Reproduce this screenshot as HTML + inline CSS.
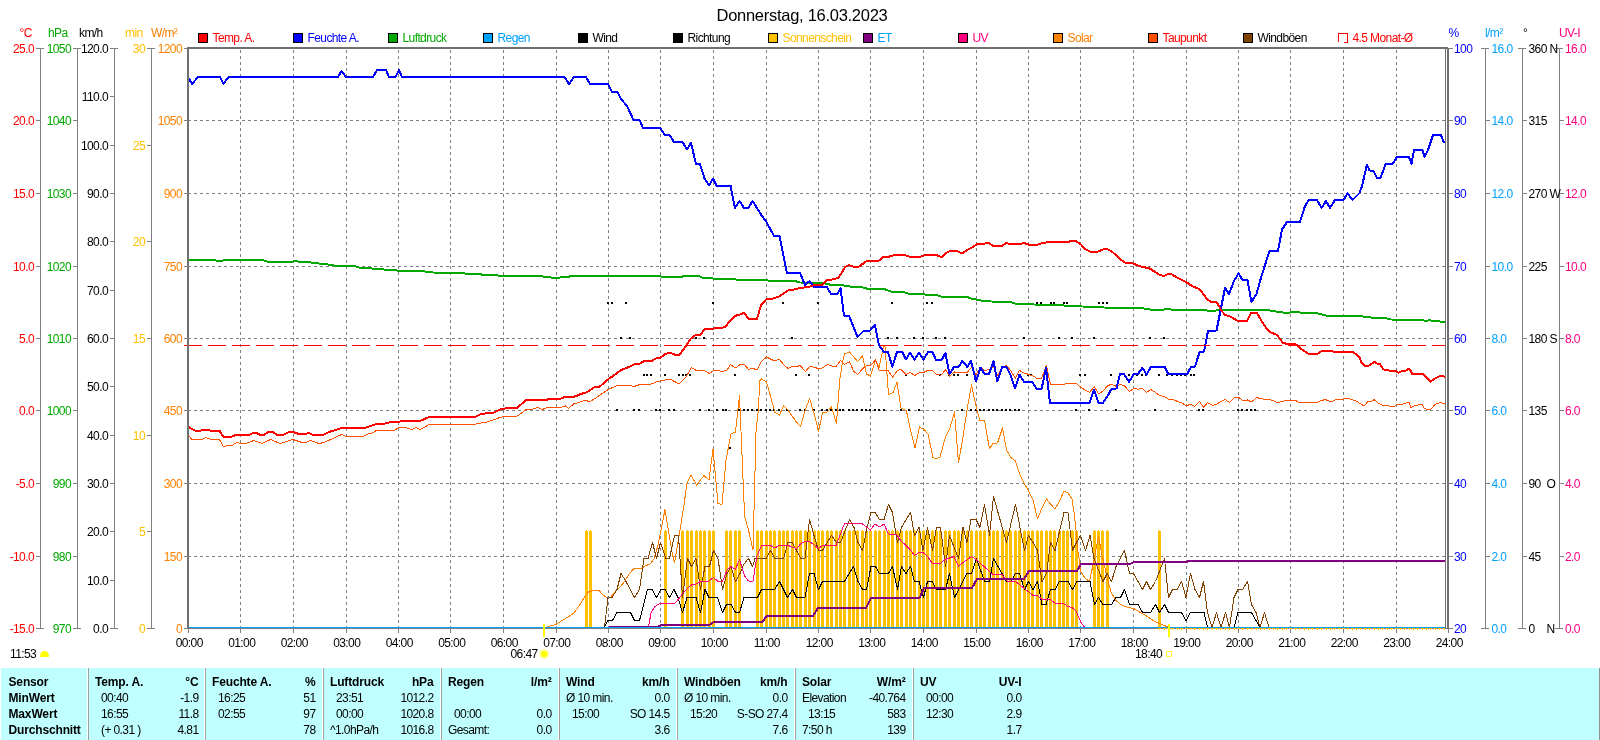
<!DOCTYPE html>
<html><head><meta charset="utf-8"><title>Wetter</title><style>html,body{margin:0;padding:0;background:#fff;overflow:hidden}svg{display:block;will-change:transform}text{white-space:pre}</style>
</head><body>
<svg width="1600" height="740" viewBox="0 0 1600 740" font-family="'Liberation Sans', sans-serif" font-size="12px" letter-spacing="-0.6px">
<rect x="0" y="0" width="1600" height="740" fill="#fff"/>
<text x="802" y="21" font-size="16.5px" letter-spacing="-0.28px" text-anchor="middle" fill="#000">Donnerstag, 16.03.2023</text>
<g stroke="#808080" stroke-width="1" stroke-dasharray="3,3" shape-rendering="crispEdges" fill="none"><line x1="188" y1="120.5" x2="1445" y2="120.5"/><line x1="188" y1="193.5" x2="1445" y2="193.5"/><line x1="188" y1="266.5" x2="1445" y2="266.5"/><line x1="188" y1="338.5" x2="1445" y2="338.5"/><line x1="188" y1="410.5" x2="1445" y2="410.5"/><line x1="188" y1="483.5" x2="1445" y2="483.5"/><line x1="188" y1="556.5" x2="1445" y2="556.5"/><line x1="240.5" y1="50" x2="240.5" y2="627"/><line x1="293.5" y1="50" x2="293.5" y2="627"/><line x1="346.5" y1="50" x2="346.5" y2="627"/><line x1="398.5" y1="50" x2="398.5" y2="627"/><line x1="450.5" y1="50" x2="450.5" y2="627"/><line x1="503.5" y1="50" x2="503.5" y2="627"/><line x1="556.5" y1="50" x2="556.5" y2="627"/><line x1="608.5" y1="50" x2="608.5" y2="627"/><line x1="660.5" y1="50" x2="660.5" y2="627"/><line x1="713.5" y1="50" x2="713.5" y2="627"/><line x1="766.5" y1="50" x2="766.5" y2="627"/><line x1="818.5" y1="50" x2="818.5" y2="627"/><line x1="870.5" y1="50" x2="870.5" y2="627"/><line x1="923.5" y1="50" x2="923.5" y2="627"/><line x1="976.5" y1="50" x2="976.5" y2="627"/><line x1="1028.5" y1="50" x2="1028.5" y2="627"/><line x1="1080.5" y1="50" x2="1080.5" y2="627"/><line x1="1133.5" y1="50" x2="1133.5" y2="627"/><line x1="1186.5" y1="50" x2="1186.5" y2="627"/><line x1="1238.5" y1="50" x2="1238.5" y2="627"/><line x1="1290.5" y1="50" x2="1290.5" y2="627"/><line x1="1343.5" y1="50" x2="1343.5" y2="627"/><line x1="1396.5" y1="50" x2="1396.5" y2="627"/></g>
<g shape-rendering="crispEdges"><rect x="585" y="531" width="3" height="97" fill="#FFC000"/><rect x="586" y="530" width="1" height="1" fill="#FFC000"/><rect x="589" y="531" width="3" height="97" fill="#FFC000"/><rect x="590" y="530" width="1" height="1" fill="#FFC000"/><rect x="664" y="531" width="3" height="97" fill="#FFC000"/><rect x="665" y="530" width="1" height="1" fill="#FFC000"/><rect x="681" y="531" width="3" height="97" fill="#FFC000"/><rect x="682" y="530" width="1" height="1" fill="#FFC000"/><rect x="686" y="531" width="3" height="97" fill="#FFC000"/><rect x="687" y="530" width="1" height="1" fill="#FFC000"/><rect x="690" y="531" width="3" height="97" fill="#FFC000"/><rect x="691" y="530" width="1" height="1" fill="#FFC000"/><rect x="695" y="531" width="3" height="97" fill="#FFC000"/><rect x="696" y="530" width="1" height="1" fill="#FFC000"/><rect x="699" y="531" width="3" height="97" fill="#FFC000"/><rect x="700" y="530" width="1" height="1" fill="#FFC000"/><rect x="703" y="531" width="3" height="97" fill="#FFC000"/><rect x="704" y="530" width="1" height="1" fill="#FFC000"/><rect x="708" y="531" width="3" height="97" fill="#FFC000"/><rect x="709" y="530" width="1" height="1" fill="#FFC000"/><rect x="712" y="531" width="3" height="97" fill="#FFC000"/><rect x="713" y="530" width="1" height="1" fill="#FFC000"/><rect x="725" y="531" width="3" height="97" fill="#FFC000"/><rect x="726" y="530" width="1" height="1" fill="#FFC000"/><rect x="729" y="531" width="3" height="97" fill="#FFC000"/><rect x="730" y="530" width="1" height="1" fill="#FFC000"/><rect x="734" y="531" width="3" height="97" fill="#FFC000"/><rect x="735" y="530" width="1" height="1" fill="#FFC000"/><rect x="738" y="531" width="3" height="97" fill="#FFC000"/><rect x="739" y="530" width="1" height="1" fill="#FFC000"/><rect x="756" y="531" width="3" height="97" fill="#FFC000"/><rect x="757" y="530" width="1" height="1" fill="#FFC000"/><rect x="760" y="531" width="3" height="97" fill="#FFC000"/><rect x="761" y="530" width="1" height="1" fill="#FFC000"/><rect x="765" y="531" width="3" height="97" fill="#FFC000"/><rect x="766" y="530" width="1" height="1" fill="#FFC000"/><rect x="769" y="531" width="3" height="97" fill="#FFC000"/><rect x="770" y="530" width="1" height="1" fill="#FFC000"/><rect x="773" y="531" width="3" height="97" fill="#FFC000"/><rect x="774" y="530" width="1" height="1" fill="#FFC000"/><rect x="778" y="531" width="3" height="97" fill="#FFC000"/><rect x="779" y="530" width="1" height="1" fill="#FFC000"/><rect x="782" y="531" width="3" height="97" fill="#FFC000"/><rect x="783" y="530" width="1" height="1" fill="#FFC000"/><rect x="786" y="531" width="3" height="97" fill="#FFC000"/><rect x="787" y="530" width="1" height="1" fill="#FFC000"/><rect x="791" y="531" width="3" height="97" fill="#FFC000"/><rect x="792" y="530" width="1" height="1" fill="#FFC000"/><rect x="795" y="531" width="3" height="97" fill="#FFC000"/><rect x="796" y="530" width="1" height="1" fill="#FFC000"/><rect x="799" y="531" width="3" height="97" fill="#FFC000"/><rect x="800" y="530" width="1" height="1" fill="#FFC000"/><rect x="804" y="531" width="3" height="97" fill="#FFC000"/><rect x="805" y="530" width="1" height="1" fill="#FFC000"/><rect x="808" y="531" width="3" height="97" fill="#FFC000"/><rect x="809" y="530" width="1" height="1" fill="#FFC000"/><rect x="813" y="531" width="3" height="97" fill="#FFC000"/><rect x="814" y="530" width="1" height="1" fill="#FFC000"/><rect x="817" y="531" width="3" height="97" fill="#FFC000"/><rect x="818" y="530" width="1" height="1" fill="#FFC000"/><rect x="821" y="531" width="3" height="97" fill="#FFC000"/><rect x="822" y="530" width="1" height="1" fill="#FFC000"/><rect x="826" y="531" width="3" height="97" fill="#FFC000"/><rect x="827" y="530" width="1" height="1" fill="#FFC000"/><rect x="830" y="531" width="3" height="97" fill="#FFC000"/><rect x="831" y="530" width="1" height="1" fill="#FFC000"/><rect x="835" y="531" width="3" height="97" fill="#FFC000"/><rect x="836" y="530" width="1" height="1" fill="#FFC000"/><rect x="839" y="531" width="3" height="97" fill="#FFC000"/><rect x="840" y="530" width="1" height="1" fill="#FFC000"/><rect x="843" y="531" width="3" height="97" fill="#FFC000"/><rect x="844" y="530" width="1" height="1" fill="#FFC000"/><rect x="848" y="531" width="3" height="97" fill="#FFC000"/><rect x="849" y="530" width="1" height="1" fill="#FFC000"/><rect x="852" y="531" width="3" height="97" fill="#FFC000"/><rect x="853" y="530" width="1" height="1" fill="#FFC000"/><rect x="856" y="531" width="3" height="97" fill="#FFC000"/><rect x="857" y="530" width="1" height="1" fill="#FFC000"/><rect x="861" y="531" width="3" height="97" fill="#FFC000"/><rect x="862" y="530" width="1" height="1" fill="#FFC000"/><rect x="865" y="531" width="3" height="97" fill="#FFC000"/><rect x="866" y="530" width="1" height="1" fill="#FFC000"/><rect x="869" y="531" width="3" height="97" fill="#FFC000"/><rect x="870" y="530" width="1" height="1" fill="#FFC000"/><rect x="874" y="531" width="3" height="97" fill="#FFC000"/><rect x="875" y="530" width="1" height="1" fill="#FFC000"/><rect x="878" y="531" width="3" height="97" fill="#FFC000"/><rect x="879" y="530" width="1" height="1" fill="#FFC000"/><rect x="883" y="531" width="3" height="97" fill="#FFC000"/><rect x="884" y="530" width="1" height="1" fill="#FFC000"/><rect x="887" y="531" width="3" height="97" fill="#FFC000"/><rect x="888" y="530" width="1" height="1" fill="#FFC000"/><rect x="891" y="531" width="3" height="97" fill="#FFC000"/><rect x="892" y="530" width="1" height="1" fill="#FFC000"/><rect x="896" y="531" width="3" height="97" fill="#FFC000"/><rect x="897" y="530" width="1" height="1" fill="#FFC000"/><rect x="900" y="531" width="3" height="97" fill="#FFC000"/><rect x="901" y="530" width="1" height="1" fill="#FFC000"/><rect x="905" y="531" width="3" height="97" fill="#FFC000"/><rect x="906" y="530" width="1" height="1" fill="#FFC000"/><rect x="909" y="531" width="3" height="97" fill="#FFC000"/><rect x="910" y="530" width="1" height="1" fill="#FFC000"/><rect x="913" y="531" width="3" height="97" fill="#FFC000"/><rect x="914" y="530" width="1" height="1" fill="#FFC000"/><rect x="918" y="531" width="3" height="97" fill="#FFC000"/><rect x="919" y="530" width="1" height="1" fill="#FFC000"/><rect x="922" y="531" width="3" height="97" fill="#FFC000"/><rect x="923" y="530" width="1" height="1" fill="#FFC000"/><rect x="926" y="531" width="3" height="97" fill="#FFC000"/><rect x="927" y="530" width="1" height="1" fill="#FFC000"/><rect x="931" y="531" width="3" height="97" fill="#FFC000"/><rect x="932" y="530" width="1" height="1" fill="#FFC000"/><rect x="935" y="531" width="3" height="97" fill="#FFC000"/><rect x="936" y="530" width="1" height="1" fill="#FFC000"/><rect x="939" y="531" width="3" height="97" fill="#FFC000"/><rect x="940" y="530" width="1" height="1" fill="#FFC000"/><rect x="944" y="531" width="3" height="97" fill="#FFC000"/><rect x="945" y="530" width="1" height="1" fill="#FFC000"/><rect x="948" y="531" width="3" height="97" fill="#FFC000"/><rect x="949" y="530" width="1" height="1" fill="#FFC000"/><rect x="953" y="531" width="3" height="97" fill="#FFC000"/><rect x="954" y="530" width="1" height="1" fill="#FFC000"/><rect x="957" y="531" width="3" height="97" fill="#FFC000"/><rect x="958" y="530" width="1" height="1" fill="#FFC000"/><rect x="961" y="531" width="3" height="97" fill="#FFC000"/><rect x="962" y="530" width="1" height="1" fill="#FFC000"/><rect x="966" y="531" width="3" height="97" fill="#FFC000"/><rect x="967" y="530" width="1" height="1" fill="#FFC000"/><rect x="970" y="531" width="3" height="97" fill="#FFC000"/><rect x="971" y="530" width="1" height="1" fill="#FFC000"/><rect x="975" y="531" width="3" height="97" fill="#FFC000"/><rect x="976" y="530" width="1" height="1" fill="#FFC000"/><rect x="979" y="531" width="3" height="97" fill="#FFC000"/><rect x="980" y="530" width="1" height="1" fill="#FFC000"/><rect x="983" y="531" width="3" height="97" fill="#FFC000"/><rect x="984" y="530" width="1" height="1" fill="#FFC000"/><rect x="988" y="531" width="3" height="97" fill="#FFC000"/><rect x="989" y="530" width="1" height="1" fill="#FFC000"/><rect x="992" y="531" width="3" height="97" fill="#FFC000"/><rect x="993" y="530" width="1" height="1" fill="#FFC000"/><rect x="996" y="531" width="3" height="97" fill="#FFC000"/><rect x="997" y="530" width="1" height="1" fill="#FFC000"/><rect x="1001" y="531" width="3" height="97" fill="#FFC000"/><rect x="1002" y="530" width="1" height="1" fill="#FFC000"/><rect x="1005" y="531" width="3" height="97" fill="#FFC000"/><rect x="1006" y="530" width="1" height="1" fill="#FFC000"/><rect x="1009" y="531" width="3" height="97" fill="#FFC000"/><rect x="1010" y="530" width="1" height="1" fill="#FFC000"/><rect x="1014" y="531" width="3" height="97" fill="#FFC000"/><rect x="1015" y="530" width="1" height="1" fill="#FFC000"/><rect x="1018" y="531" width="3" height="97" fill="#FFC000"/><rect x="1019" y="530" width="1" height="1" fill="#FFC000"/><rect x="1023" y="531" width="3" height="97" fill="#FFC000"/><rect x="1024" y="530" width="1" height="1" fill="#FFC000"/><rect x="1027" y="531" width="3" height="97" fill="#FFC000"/><rect x="1028" y="530" width="1" height="1" fill="#FFC000"/><rect x="1031" y="531" width="3" height="97" fill="#FFC000"/><rect x="1032" y="530" width="1" height="1" fill="#FFC000"/><rect x="1036" y="531" width="3" height="97" fill="#FFC000"/><rect x="1037" y="530" width="1" height="1" fill="#FFC000"/><rect x="1040" y="531" width="3" height="97" fill="#FFC000"/><rect x="1041" y="530" width="1" height="1" fill="#FFC000"/><rect x="1045" y="531" width="3" height="97" fill="#FFC000"/><rect x="1046" y="530" width="1" height="1" fill="#FFC000"/><rect x="1049" y="531" width="3" height="97" fill="#FFC000"/><rect x="1050" y="530" width="1" height="1" fill="#FFC000"/><rect x="1053" y="531" width="3" height="97" fill="#FFC000"/><rect x="1054" y="530" width="1" height="1" fill="#FFC000"/><rect x="1058" y="531" width="3" height="97" fill="#FFC000"/><rect x="1059" y="530" width="1" height="1" fill="#FFC000"/><rect x="1062" y="531" width="3" height="97" fill="#FFC000"/><rect x="1063" y="530" width="1" height="1" fill="#FFC000"/><rect x="1066" y="531" width="3" height="97" fill="#FFC000"/><rect x="1067" y="530" width="1" height="1" fill="#FFC000"/><rect x="1071" y="531" width="3" height="97" fill="#FFC000"/><rect x="1072" y="530" width="1" height="1" fill="#FFC000"/><rect x="1075" y="531" width="3" height="97" fill="#FFC000"/><rect x="1076" y="530" width="1" height="1" fill="#FFC000"/><rect x="1093" y="531" width="3" height="97" fill="#FFC000"/><rect x="1094" y="530" width="1" height="1" fill="#FFC000"/><rect x="1097" y="531" width="3" height="97" fill="#FFC000"/><rect x="1098" y="530" width="1" height="1" fill="#FFC000"/><rect x="1101" y="531" width="3" height="97" fill="#FFC000"/><rect x="1102" y="530" width="1" height="1" fill="#FFC000"/><rect x="1106" y="531" width="3" height="97" fill="#FFC000"/><rect x="1107" y="530" width="1" height="1" fill="#FFC000"/><rect x="1158" y="531" width="3" height="97" fill="#FFC000"/><rect x="1159" y="530" width="1" height="1" fill="#FFC000"/></g>
<g fill="#000" shape-rendering="crispEdges"><rect x="616" y="409" width="2" height="2"/><rect x="633" y="409" width="2" height="2"/><rect x="638" y="409" width="2" height="2"/><rect x="655" y="409" width="2" height="2"/><rect x="659" y="409" width="2" height="2"/><rect x="668" y="409" width="2" height="2"/><rect x="673" y="409" width="2" height="2"/><rect x="699" y="409" width="2" height="2"/><rect x="708" y="409" width="2" height="2"/><rect x="716" y="409" width="2" height="2"/><rect x="722" y="409" width="2" height="2"/><rect x="725" y="409" width="2" height="2"/><rect x="738" y="409" width="2" height="2"/><rect x="743" y="409" width="2" height="2"/><rect x="747" y="409" width="2" height="2"/><rect x="751" y="409" width="2" height="2"/><rect x="756" y="409" width="2" height="2"/><rect x="760" y="409" width="2" height="2"/><rect x="765" y="409" width="2" height="2"/><rect x="769" y="409" width="2" height="2"/><rect x="773" y="409" width="2" height="2"/><rect x="778" y="409" width="2" height="2"/><rect x="786" y="409" width="2" height="2"/><rect x="799" y="409" width="2" height="2"/><rect x="804" y="409" width="2" height="2"/><rect x="813" y="409" width="2" height="2"/><rect x="821" y="409" width="2" height="2"/><rect x="826" y="409" width="2" height="2"/><rect x="830" y="409" width="2" height="2"/><rect x="835" y="409" width="2" height="2"/><rect x="839" y="409" width="2" height="2"/><rect x="842" y="409" width="2" height="2"/><rect x="848" y="409" width="2" height="2"/><rect x="852" y="409" width="2" height="2"/><rect x="856" y="409" width="2" height="2"/><rect x="861" y="409" width="2" height="2"/><rect x="865" y="409" width="2" height="2"/><rect x="869" y="409" width="2" height="2"/><rect x="874" y="409" width="2" height="2"/><rect x="878" y="409" width="2" height="2"/><rect x="883" y="409" width="2" height="2"/><rect x="900" y="409" width="2" height="2"/><rect x="908" y="409" width="2" height="2"/><rect x="918" y="409" width="2" height="2"/><rect x="961" y="409" width="2" height="2"/><rect x="970" y="409" width="2" height="2"/><rect x="975" y="409" width="2" height="2"/><rect x="979" y="409" width="2" height="2"/><rect x="983" y="409" width="2" height="2"/><rect x="988" y="409" width="2" height="2"/><rect x="992" y="409" width="2" height="2"/><rect x="996" y="409" width="2" height="2"/><rect x="1001" y="409" width="2" height="2"/><rect x="1005" y="409" width="2" height="2"/><rect x="1009" y="409" width="2" height="2"/><rect x="1014" y="409" width="2" height="2"/><rect x="1018" y="409" width="2" height="2"/><rect x="1075" y="409" width="2" height="2"/><rect x="1088" y="409" width="2" height="2"/><rect x="1115" y="409" width="2" height="2"/><rect x="1154" y="409" width="2" height="2"/><rect x="1198" y="409" width="2" height="2"/><rect x="1202" y="409" width="2" height="2"/><rect x="1237" y="409" width="2" height="2"/><rect x="1241" y="409" width="2" height="2"/><rect x="1246" y="409" width="2" height="2"/><rect x="1250" y="409" width="2" height="2"/><rect x="1254" y="409" width="2" height="2"/><rect x="643" y="374" width="2" height="2"/><rect x="646" y="374" width="2" height="2"/><rect x="650" y="374" width="2" height="2"/><rect x="664" y="374" width="2" height="2"/><rect x="678" y="374" width="2" height="2"/><rect x="682" y="374" width="2" height="2"/><rect x="685" y="374" width="2" height="2"/><rect x="689" y="374" width="2" height="2"/><rect x="734" y="374" width="2" height="2"/><rect x="795" y="374" width="2" height="2"/><rect x="808" y="374" width="2" height="2"/><rect x="905" y="374" width="2" height="2"/><rect x="939" y="374" width="2" height="2"/><rect x="948" y="374" width="2" height="2"/><rect x="953" y="374" width="2" height="2"/><rect x="957" y="374" width="2" height="2"/><rect x="966" y="374" width="2" height="2"/><rect x="1027" y="374" width="2" height="2"/><rect x="1030" y="374" width="2" height="2"/><rect x="1079" y="374" width="2" height="2"/><rect x="1084" y="374" width="2" height="2"/><rect x="1110" y="374" width="2" height="2"/><rect x="1128" y="374" width="2" height="2"/><rect x="1136" y="374" width="2" height="2"/><rect x="1141" y="374" width="2" height="2"/><rect x="1145" y="374" width="2" height="2"/><rect x="1158" y="374" width="2" height="2"/><rect x="1166" y="374" width="2" height="2"/><rect x="1171" y="374" width="2" height="2"/><rect x="1176" y="374" width="2" height="2"/><rect x="1180" y="374" width="2" height="2"/><rect x="1184" y="374" width="2" height="2"/><rect x="1190" y="374" width="2" height="2"/><rect x="1193" y="374" width="2" height="2"/><rect x="620" y="337" width="2" height="2"/><rect x="629" y="337" width="2" height="2"/><rect x="695" y="337" width="2" height="2"/><rect x="703" y="337" width="2" height="2"/><rect x="791" y="337" width="2" height="2"/><rect x="887" y="337" width="2" height="2"/><rect x="896" y="337" width="2" height="2"/><rect x="913" y="337" width="2" height="2"/><rect x="922" y="337" width="2" height="2"/><rect x="935" y="337" width="2" height="2"/><rect x="944" y="337" width="2" height="2"/><rect x="1023" y="337" width="2" height="2"/><rect x="1058" y="337" width="2" height="2"/><rect x="1071" y="337" width="2" height="2"/><rect x="1093" y="337" width="2" height="2"/><rect x="1149" y="337" width="2" height="2"/><rect x="1163" y="337" width="2" height="2"/><rect x="607" y="302" width="2" height="2"/><rect x="611" y="302" width="2" height="2"/><rect x="625" y="302" width="2" height="2"/><rect x="712" y="302" width="2" height="2"/><rect x="782" y="302" width="2" height="2"/><rect x="817" y="302" width="2" height="2"/><rect x="891" y="302" width="2" height="2"/><rect x="926" y="302" width="2" height="2"/><rect x="931" y="302" width="2" height="2"/><rect x="1036" y="302" width="2" height="2"/><rect x="1040" y="302" width="2" height="2"/><rect x="1050" y="302" width="2" height="2"/><rect x="1053" y="302" width="2" height="2"/><rect x="1063" y="302" width="2" height="2"/><rect x="1066" y="302" width="2" height="2"/><rect x="1098" y="302" width="2" height="2"/><rect x="1102" y="302" width="2" height="2"/><rect x="1106" y="302" width="2" height="2"/><rect x="729" y="447" width="2" height="2"/></g>
<polyline points="547.0,627.5 548.0,626.5 552.0,625.5 556.0,624.3 563.0,620.0 568.0,617.0 574.0,613.0 581.0,603.0 585.0,596.0 589.0,591.5 594.0,590.5 599.0,590.5 603.0,595.0 607.0,597.5 611.0,597.0 616.0,590.5 620.0,587.0 625.0,581.0 629.0,574.0 634.0,568.5 641.0,568.5 645.0,566.0 650.0,564.0 654.0,559.0 658.0,545.0 661.0,530.0 665.0,509.5 668.0,528.0 672.0,552.0 674.5,563.0 680.0,530.0 684.0,505.0 687.0,483.0 691.0,475.0 696.5,485.0 704.0,475.5 709.0,480.0 713.0,449.0 718.0,503.5 722.0,504.5 726.0,460.0 731.0,434.0 735.5,432.0 739.5,396.0 744.0,502.0 745.0,518.0 748.0,528.0 753.0,550.0 756.0,432.0 758.0,413.0 760.0,380.5 761.5,379.0 766.5,382.0 771.0,398.0 775.0,412.5 779.5,415.0 783.5,405.5 788.0,410.0 792.0,416.0 796.5,422.0 800.5,426.5 805.0,411.0 809.5,398.5 814.0,413.0 818.5,431.5 822.5,413.0 827.0,412.0 831.5,407.0 836.5,423.5 838.5,396.0 840.0,378.0 842.5,362.0 844.5,354.0 849.5,352.0 853.5,356.5 857.5,361.5 862.5,356.0 866.5,374.0 870.5,376.0 875.5,360.0 879.0,367.5 883.5,347.0 885.0,346.5 888.5,395.0 893.0,392.5 897.0,382.0 901.0,408.0 906.5,411.0 910.0,428.0 915.0,448.0 919.5,427.0 924.0,429.5 928.0,434.0 933.0,457.5 936.5,459.0 940.0,457.0 945.5,437.0 950.0,428.0 954.5,412.0 958.5,463.0 963.0,437.0 967.0,410.0 971.5,385.0 976.0,406.0 980.0,421.0 984.5,420.5 989.5,449.0 993.0,443.5 997.5,443.0 1002.5,428.0 1006.5,450.0 1011.0,457.5 1015.5,461.0 1019.5,474.0 1024.0,483.0 1028.5,491.0 1033.0,500.0 1037.5,519.0 1042.0,508.0 1046.5,499.0 1050.5,504.0 1055.0,509.0 1059.5,501.0 1064.0,491.0 1068.0,493.0 1072.0,499.0 1074.0,512.0 1076.0,530.0 1077.5,548.0 1078.5,555.0 1081.0,572.0 1085.0,578.0 1089.5,581.5 1094.0,560.0 1098.5,536.5 1102.0,555.0 1107.0,577.0 1111.0,592.0 1115.5,600.0 1120.0,604.0 1125.0,606.5 1129.0,607.5 1133.5,608.5 1138.0,611.0 1142.0,613.5 1146.5,616.0 1151.0,619.0 1155.0,621.5 1159.5,623.5 1164.0,625.5 1168.5,627.0" fill="none" stroke="#FF8000" stroke-width="1.0" stroke-linejoin="round" shape-rendering="crispEdges"/>
<polyline points="604.5,627.5 608.0,597.5 612.0,597.5 617.0,589.5 621.0,573.5 626.0,581.5 634.5,597.5 639.5,589.5 644.0,558.5 648.0,558.5 652.5,542.5 656.5,558.5 660.5,542.5 666.0,558.5 669.5,558.5 674.5,535.5 678.5,535.5 682.5,597.5 687.5,558.5 691.5,566.5 696.0,558.5 700.5,589.5 705.0,566.5 709.5,566.5 713.5,550.5 718.0,558.5 722.5,589.5 727.0,573.5 731.0,566.5 735.5,581.5 740.0,573.5 744.0,564.0 748.5,558.5 752.5,566.5 755.0,558.5 757.0,558.5 766.0,558.5 770.5,550.5 775.0,558.5 783.5,558.5 788.0,542.5 792.0,542.5 796.5,550.5 801.0,558.5 805.0,558.5 809.5,519.5 814.0,535.5 818.5,550.5 822.5,550.5 831.5,535.5 836.5,542.5 840.5,542.5 849.5,519.5 854.0,527.5 858.0,542.5 862.5,550.5 867.0,527.5 871.0,512.5 875.0,512.5 879.5,519.5 884.0,519.5 888.5,504.5 892.5,512.5 897.5,542.5 901.5,527.5 910.5,512.5 914.5,535.5 919.0,527.5 923.0,550.5 927.5,527.5 932.5,550.5 936.5,527.5 940.5,527.5 945.5,566.5 949.5,535.5 958.5,558.5 963.0,527.5 967.0,542.5 971.0,519.5 976.0,519.5 980.0,527.5 984.5,504.5 989.5,535.5 993.5,496.5 1006.5,542.5 1015.5,504.5 1024.5,550.5 1028.5,535.5 1033.0,542.5 1037.5,550.5 1042.0,581.5 1046.5,573.5 1050.5,542.5 1055.0,550.5 1064.0,512.5 1068.0,512.5 1072.5,550.5 1076.5,542.5 1080.5,535.5 1085.5,550.5 1090.0,535.5 1094.0,558.5 1103.0,581.5 1107.0,573.5 1111.5,581.5 1116.0,566.5 1124.5,550.5 1129.5,573.5 1133.5,573.5 1142.5,589.5 1146.5,581.5 1150.5,589.5 1155.5,581.5 1164.5,558.5 1168.5,597.5 1172.5,589.5 1177.0,589.5 1181.5,581.5 1186.0,597.5 1190.5,573.5 1195.0,589.5 1199.5,597.5 1203.5,581.5 1207.5,612.5 1212.0,627.5 1216.5,612.5 1221.0,627.5 1225.5,612.5 1229.5,627.5 1234.0,597.5 1238.0,589.5 1242.5,589.5 1247.5,581.5 1251.5,604.5 1256.0,612.5 1260.0,627.5 1264.5,612.5 1269.0,627.5" fill="none" stroke="#804000" stroke-width="1.0" stroke-linejoin="round" shape-rendering="crispEdges"/>
<polyline points="604.5,627.5 607.5,620.5 612.5,620.5 617.0,612.5 630.5,612.5 634.5,620.5 639.5,620.5 647.5,589.5 652.0,589.5 656.5,597.5 661.0,589.5 665.0,589.5 669.5,597.5 674.0,589.5 678.0,597.5 682.5,612.5 687.0,597.5 696.0,597.5 700.5,612.5 705.0,589.5 709.0,597.5 717.5,597.5 722.5,612.5 726.5,604.5 731.0,604.5 735.5,612.5 739.5,612.5 744.0,597.5 757.5,597.5 761.5,589.5 774.5,589.5 779.5,581.5 787.5,597.5 792.5,589.5 796.5,597.5 805.0,597.5 809.5,573.5 814.0,573.5 818.5,589.5 822.5,581.5 844.5,581.5 853.5,566.5 858.0,581.5 862.5,589.5 866.5,589.5 871.0,566.5 875.5,566.5 879.5,573.5 888.5,573.5 892.5,566.5 897.5,589.5 901.5,566.5 906.0,573.5 910.5,566.5 914.5,581.5 919.0,581.5 923.5,597.5 927.5,581.5 932.0,581.5 936.5,589.5 945.5,589.5 949.5,573.5 954.5,597.5 967.0,573.5 971.5,573.5 976.5,558.5 984.5,581.5 989.5,581.5 993.5,558.5 1006.5,581.5 1011.0,581.5 1015.5,573.5 1019.5,573.5 1024.5,589.5 1028.5,581.5 1033.0,589.5 1037.5,581.5 1042.0,604.5 1046.0,604.5 1050.5,589.5 1055.0,589.5 1059.5,581.5 1068.0,581.5 1072.5,589.5 1077.0,581.5 1090.0,581.5 1094.5,604.5 1098.5,597.5 1103.0,604.5 1111.5,604.5 1116.0,597.5 1120.5,597.5 1124.5,589.5 1129.5,604.5 1138.0,604.5 1142.5,612.5 1150.5,612.5 1155.5,604.5 1159.5,612.5 1164.5,604.5 1168.5,612.5 1181.5,612.5 1186.0,620.5 1190.5,612.5 1204.0,612.5 1207.5,627.5 1234.0,627.5 1238.0,612.5 1251.5,612.5 1256.0,620.5 1260.0,627.5" fill="none" stroke="#000" stroke-width="1.0" stroke-linejoin="round" shape-rendering="crispEdges"/>
<polyline points="648.5,627.0 651.0,613.0 654.5,607.0 659.5,603.5 674.5,603.5 679.0,598.5 683.0,593.0 687.5,588.5 692.0,584.5 696.0,584.0 700.5,581.5 709.0,581.0 713.5,577.5 718.0,581.5 722.5,581.5 727.0,570.0 730.5,567.0 735.5,569.0 739.5,559.5 744.5,576.0 748.5,581.0 753.0,581.0 757.0,556.0 761.5,545.5 770.5,545.5 775.0,548.0 779.0,545.5 788.0,545.5 796.5,548.5 801.0,543.5 805.0,541.5 809.5,541.5 818.5,548.5 822.5,545.5 836.0,545.5 840.5,534.0 844.5,523.5 862.0,523.5 866.5,527.0 870.5,530.0 875.0,524.0 879.5,527.0 884.0,524.0 888.5,534.0 896.5,534.5 901.5,541.5 906.0,545.5 910.0,549.5 914.5,555.5 919.0,552.5 923.0,552.5 927.5,556.5 932.5,563.5 940.5,563.5 945.0,559.5 954.0,556.5 958.5,566.0 971.5,556.5 976.0,559.5 984.5,567.0 993.0,574.5 1002.0,574.5 1006.5,581.0 1015.5,581.5 1024.5,588.5 1033.0,595.5 1037.5,595.5 1042.0,599.5 1050.0,599.5 1055.0,603.0 1063.5,603.5 1068.0,606.5 1072.0,607.5 1076.0,611.0 1079.0,618.0 1082.0,624.0 1085.0,627.5" fill="none" stroke="#FF0080" stroke-width="1.0" stroke-linejoin="round" shape-rendering="crispEdges"/>
<polyline points="188.0,435.0 192.0,439.5 202.0,439.5 206.0,437.5 210.0,439.0 219.5,439.5 223.5,447.0 227.0,445.5 232.0,445.5 236.5,442.5 241.0,443.5 247.0,443.0 254.0,440.5 262.0,443.5 270.5,439.5 280.0,443.5 285.0,442.0 293.0,439.5 302.0,442.5 306.0,442.5 310.5,440.5 319.0,443.5 324.0,442.5 333.0,438.5 341.5,434.5 346.5,436.5 363.0,436.5 368.0,434.0 372.0,433.0 376.5,430.5 394.0,430.5 398.0,428.0 400.0,427.5 407.0,428.0 412.0,429.5 416.0,427.5 420.5,429.5 429.0,424.5 474.0,424.5 478.5,423.5 487.0,422.0 491.5,420.5 500.0,417.5 504.5,416.5 516.5,416.5 521.0,413.5 526.0,409.5 531.5,409.5 538.0,407.5 542.5,409.5 547.0,407.5 562.5,407.0 565.5,406.0 568.5,408.5 573.5,404.0 577.0,403.0 585.0,400.5 590.0,401.5 596.5,397.5 603.0,393.0 609.0,389.0 617.5,385.5 630.0,385.5 634.0,386.5 640.0,384.5 649.0,385.0 656.0,382.0 662.0,380.5 670.0,379.0 674.5,381.5 679.0,384.0 686.0,377.0 691.5,367.5 697.0,371.0 704.0,370.5 709.5,373.5 713.5,370.5 718.0,370.5 722.0,371.5 727.0,370.0 730.5,364.5 735.5,368.0 740.0,364.5 744.5,364.5 748.5,369.5 752.0,368.5 757.0,369.5 761.5,361.5 766.5,357.0 772.5,360.0 775.0,360.5 779.5,359.5 784.0,365.0 788.0,368.5 792.5,366.5 797.0,366.5 800.0,365.5 805.5,371.5 810.0,366.0 814.5,367.5 818.5,368.5 822.5,368.0 827.5,364.5 831.5,366.0 836.0,366.5 840.5,360.5 844.5,364.5 849.5,361.5 853.5,371.0 857.5,374.5 862.5,369.0 866.5,365.5 871.0,365.0 875.5,360.0 879.5,371.0 884.0,370.5 888.0,370.5 892.5,377.0 897.5,370.6 901.0,369.5 906.0,374.6 910.0,372.3 914.6,375.5 919.0,373.0 923.5,372.5 927.5,370.5 932.5,370.5 936.6,374.6 941.0,375.2 945.7,369.6 949.5,376.0 954.5,372.0 958.4,373.0 962.7,372.2 967.3,372.3 971.6,367.3 976.0,375.0 980.5,367.5 985.0,370.7 989.0,369.5 993.5,366.5 997.5,375.5 1002.0,368.0 1006.5,365.5 1011.0,371.0 1015.4,378.5 1019.5,370.4 1024.0,373.0 1028.5,374.3 1033.0,376.0 1037.0,378.4 1041.6,378.4 1046.4,365.4 1050.5,384.6 1064.5,384.3 1066.0,383.4 1076.5,383.4 1081.0,387.6 1089.6,392.4 1094.3,386.5 1098.6,394.0 1103.0,391.0 1107.4,386.0 1111.0,384.3 1116.0,386.2 1120.5,384.3 1124.5,386.0 1129.5,391.5 1133.5,388.4 1138.0,389.2 1142.0,388.4 1146.6,392.3 1150.5,389.5 1155.0,392.0 1159.5,395.4 1164.5,396.5 1168.6,399.3 1173.0,399.6 1177.5,401.4 1181.8,403.0 1186.5,405.7 1190.5,404.3 1194.6,406.2 1199.5,401.5 1203.4,407.3 1207.6,402.6 1212.5,405.4 1217.0,404.0 1221.0,401.5 1225.0,399.6 1229.5,402.4 1235.0,397.3 1239.0,397.6 1242.6,400.3 1247.5,400.0 1251.5,402.0 1256.5,397.5 1260.5,398.5 1265.0,399.5 1270.0,399.5 1277.5,402.5 1282.5,401.5 1286.0,400.5 1295.5,400.5 1300.0,403.0 1304.0,402.5 1317.0,402.5 1321.5,400.5 1325.5,399.5 1331.0,402.0 1335.0,400.0 1343.5,399.0 1347.5,398.5 1352.0,399.5 1357.0,401.5 1364.0,406.0 1368.0,401.5 1371.0,402.0 1374.0,399.5 1378.0,403.0 1383.0,405.5 1387.0,405.0 1391.0,407.0 1395.0,406.0 1397.0,404.5 1400.0,405.0 1409.0,402.0 1411.0,407.5 1415.0,405.5 1422.0,404.5 1424.5,408.5 1428.0,409.5 1431.0,409.0 1435.0,404.5 1440.0,402.5 1445.0,404.0" fill="none" stroke="#FF5000" stroke-width="1.0" stroke-linejoin="round" shape-rendering="crispEdges"/>
<polyline points="609.0,627.0 658.0,626.5 661.5,625.0 709.0,625.0 714.0,622.0 762.0,622.0 767.0,616.0 813.0,616.0 818.0,608.0 866.0,608.0 871.0,598.0 919.5,598.0 924.0,588.0 972.0,588.0 977.0,579.0 1024.0,579.0 1029.0,571.0 1077.0,571.0 1081.0,564.0 1130.0,564.0 1134.0,562.0 1186.0,562.0 1189.0,561.0 1445.0,561.0" fill="none" stroke="#800080" stroke-width="2" stroke-linejoin="round" shape-rendering="crispEdges"/>
<polyline points="188.0,260.0 214.0,260.0 216.0,260.5 223.0,260.5 225.0,260.0 262.0,260.0 267.0,261.5 293.0,261.5 295.0,261.0 298.0,261.5 310.0,262.0 312.0,263.0 319.0,263.5 321.0,264.0 328.0,264.5 331.0,265.0 337.0,266.0 354.0,266.0 359.0,267.5 371.0,268.0 373.0,269.0 384.0,269.5 386.0,270.0 397.0,270.5 400.0,271.0 424.0,271.0 426.0,272.0 433.0,272.5 463.0,273.0 465.0,273.5 480.0,274.0 483.0,275.0 498.0,275.5 500.0,276.0 542.0,276.0 544.0,277.0 551.0,277.5 554.0,278.0 558.0,278.0 562.0,277.0 568.0,277.0 571.0,276.0 660.0,276.0 662.0,277.0 681.0,277.0 684.0,276.0 699.0,276.0 703.0,278.0 712.0,278.0 714.0,279.0 730.0,279.0 732.0,278.5 734.0,279.0 736.0,279.5 765.0,279.5 769.0,281.0 795.0,281.0 798.0,282.0 800.0,282.5 824.0,283.0 827.0,284.0 832.0,285.0 844.0,285.5 850.0,286.5 863.0,287.5 868.0,289.0 884.0,289.0 892.0,292.0 905.0,292.5 908.0,293.5 922.0,294.0 925.0,294.5 936.0,295.0 941.0,296.5 966.0,296.5 971.0,298.5 976.0,299.5 981.0,300.5 988.0,301.0 991.0,301.5 1010.0,302.0 1015.0,303.5 1031.0,304.0 1034.0,304.5 1062.0,305.0 1064.0,305.5 1080.0,306.0 1082.0,306.5 1101.0,307.0 1104.0,307.5 1142.0,308.0 1146.0,309.0 1150.0,309.5 1164.0,309.5 1167.0,309.0 1171.0,309.5 1174.0,310.0 1200.0,310.0 1207.0,310.5 1216.0,310.5 1219.0,310.0 1268.0,310.0 1272.0,311.0 1276.0,311.5 1280.0,312.0 1283.0,312.5 1290.0,312.5 1292.0,312.0 1298.0,312.0 1300.0,312.5 1316.0,313.0 1320.0,314.0 1326.0,315.5 1360.0,315.5 1363.0,316.5 1368.0,317.0 1371.0,317.5 1385.0,318.0 1391.0,319.5 1422.0,320.0 1424.0,320.5 1428.0,320.5 1430.0,320.0 1432.0,321.0 1440.0,321.5 1445.0,322.0" fill="none" stroke="#00A800" stroke-width="2" stroke-linejoin="round" shape-rendering="crispEdges"/>
<polyline points="188.0,77.0 192.0,84.0 198.0,77.0 220.0,77.0 223.5,84.0 228.5,77.0 338.0,77.0 341.5,71.0 346.0,77.0 373.0,77.0 377.0,70.0 386.0,70.0 389.0,77.0 395.5,77.0 399.0,70.0 402.0,77.0 564.5,77.0 569.0,84.0 574.0,77.0 586.0,77.0 590.0,84.0 608.0,84.0 612.0,92.0 617.5,92.0 621.0,99.0 627.0,106.0 633.5,120.0 639.5,120.0 643.0,128.0 660.0,128.0 665.0,135.0 669.5,135.0 674.0,142.0 682.5,142.0 687.0,149.5 691.0,143.0 696.0,164.0 700.0,164.0 704.5,178.5 709.0,185.5 713.0,178.5 716.5,185.5 730.5,185.5 735.0,208.0 739.5,201.0 744.0,208.0 748.5,208.0 752.5,201.0 761.0,214.5 766.5,222.0 774.0,236.0 779.5,236.0 787.0,273.0 800.0,273.0 805.0,285.0 809.5,281.0 813.5,286.5 826.5,286.5 831.0,294.0 837.5,294.0 840.5,288.0 844.0,315.5 849.0,315.5 857.5,337.0 864.0,330.5 870.0,330.5 875.0,325.0 879.0,345.4 884.0,352.0 888.0,352.0 892.3,366.6 897.0,352.0 902.4,352.0 906.0,359.5 910.0,352.7 914.6,359.5 919.0,352.7 923.5,359.5 928.0,352.0 932.4,352.0 936.0,360.0 941.6,360.0 945.4,353.0 949.5,374.0 954.0,367.0 958.6,367.0 962.4,360.8 967.3,367.0 971.0,360.8 976.0,381.5 980.5,367.6 984.6,374.0 989.0,374.0 993.5,361.0 997.3,381.5 1002.0,367.3 1006.5,367.3 1010.5,374.7 1015.0,388.6 1019.5,374.6 1024.0,381.9 1032.0,381.9 1037.0,389.0 1041.6,389.0 1046.0,367.6 1050.0,403.0 1089.5,403.0 1094.0,389.5 1098.6,403.0 1103.0,403.0 1107.4,396.2 1111.5,389.0 1116.5,388.5 1120.0,374.0 1124.0,374.0 1129.0,382.0 1133.5,374.5 1138.0,374.0 1142.4,367.6 1146.5,374.6 1151.0,366.8 1164.6,366.8 1168.4,374.3 1187.0,374.3 1191.0,367.0 1195.0,366.5 1199.5,352.3 1204.0,351.6 1208.0,331.0 1216.5,330.5 1225.0,288.0 1229.0,294.0 1234.0,281.0 1238.5,273.5 1242.5,280.0 1247.5,280.0 1251.5,302.0 1256.5,294.0 1260.5,279.5 1265.0,265.0 1269.5,251.0 1278.0,251.0 1282.0,229.5 1287.0,222.0 1300.0,222.0 1304.5,207.5 1308.5,200.0 1317.0,200.0 1321.5,208.0 1326.0,201.0 1330.0,208.0 1335.0,200.0 1343.5,200.0 1347.5,193.5 1352.5,200.0 1359.5,193.0 1362.0,186.0 1367.0,164.5 1369.5,170.5 1373.5,171.0 1377.0,178.0 1380.5,178.0 1385.5,164.5 1392.5,164.0 1397.0,157.0 1409.0,157.0 1411.5,164.0 1414.0,150.0 1422.5,150.0 1424.5,157.0 1428.0,150.0 1433.0,135.0 1441.0,135.0 1443.5,142.0 1445.5,142.0" fill="none" stroke="#0000FF" stroke-width="2" stroke-linejoin="round" shape-rendering="crispEdges"/>
<polyline points="188.0,426.5 191.0,428.5 195.0,430.5 201.0,430.5 205.0,429.5 209.5,430.5 219.5,430.5 223.0,436.5 232.0,436.5 236.0,435.0 249.0,435.0 253.0,433.0 257.0,433.0 260.0,435.0 264.0,435.0 268.0,432.0 273.0,432.0 277.0,435.0 283.0,435.0 288.0,432.5 293.0,432.0 299.0,434.0 305.0,434.0 309.0,433.0 313.0,435.0 323.0,435.0 329.0,432.0 337.0,429.5 342.0,428.0 365.0,428.0 370.0,426.0 377.0,424.0 385.0,423.5 391.0,422.0 400.0,421.5 403.0,420.5 410.0,421.0 413.0,420.5 420.0,421.0 430.0,416.5 476.0,416.5 481.0,414.0 494.0,412.5 500.0,409.5 505.0,408.5 517.0,408.0 526.0,400.0 545.0,400.0 550.0,399.0 560.0,398.9 565.3,396.9 573.0,396.9 577.0,395.8 580.7,394.0 586.8,392.2 590.8,389.7 594.5,387.3 599.0,387.3 603.0,383.7 608.7,378.8 613.1,376.0 618.4,371.9 622.9,369.2 629.0,367.0 634.6,364.2 639.1,364.2 644.3,360.9 651.6,360.9 656.5,358.1 660.6,357.7 664.6,354.5 667.9,353.1 671.1,353.1 675.2,354.9 679.5,355.0 682.7,350.5 687.0,344.6 690.8,338.6 695.7,335.1 700.5,335.1 704.0,329.5 708.0,329.0 713.0,329.0 717.0,327.5 721.0,328.0 725.0,327.0 730.0,321.0 735.0,316.0 740.0,314.5 744.0,313.0 749.0,319.0 757.0,319.0 761.0,305.0 766.0,299.5 771.0,299.0 778.0,297.0 783.0,294.0 788.0,290.5 794.0,289.5 800.0,288.0 809.0,287.0 814.0,285.0 822.0,285.0 827.0,280.0 832.0,279.5 838.0,278.0 841.0,274.0 845.0,267.0 849.0,265.0 854.0,267.0 859.0,266.5 866.0,261.5 871.0,260.5 879.0,260.5 884.0,256.5 888.0,257.0 893.0,255.5 897.0,255.0 905.0,255.0 910.0,257.0 920.0,257.0 925.0,255.0 936.0,255.0 940.0,256.5 942.0,257.0 946.0,253.0 951.0,250.5 955.0,250.5 958.0,251.5 962.0,253.5 967.0,250.0 972.0,247.5 977.0,244.0 985.0,243.5 989.0,243.0 993.0,246.0 997.0,245.5 1002.0,246.0 1006.0,243.0 1010.0,244.0 1020.0,244.0 1024.0,243.0 1030.0,245.0 1037.0,245.0 1041.0,243.5 1048.0,242.0 1067.0,242.0 1072.0,241.0 1076.0,241.0 1081.0,244.5 1085.0,249.0 1090.0,251.5 1098.0,251.5 1103.0,249.5 1107.0,249.0 1111.0,251.0 1116.0,255.0 1120.0,259.0 1125.0,262.5 1133.0,263.5 1138.0,265.5 1142.0,267.0 1149.0,268.0 1155.0,272.0 1160.0,275.0 1164.0,276.0 1168.0,274.0 1172.0,274.5 1177.0,277.5 1186.0,282.0 1192.0,286.0 1200.0,289.5 1207.0,299.0 1211.0,302.0 1217.0,302.5 1221.0,310.0 1225.0,315.0 1230.0,316.5 1238.0,321.0 1247.0,321.0 1251.0,313.0 1257.0,313.0 1261.0,320.0 1265.0,326.5 1270.0,332.0 1277.0,335.0 1283.0,343.0 1288.0,344.0 1296.0,344.5 1300.0,348.0 1308.0,353.5 1318.0,353.5 1322.0,351.0 1330.0,351.0 1333.0,351.5 1352.0,351.5 1357.0,355.0 1359.5,357.5 1362.0,363.5 1365.0,366.0 1368.5,366.0 1371.0,364.0 1374.5,362.0 1377.0,363.5 1380.0,364.0 1383.5,369.5 1388.0,370.0 1390.0,370.8 1396.0,371.0 1398.5,372.8 1402.0,371.0 1406.0,370.5 1408.5,368.8 1410.5,370.5 1412.0,373.8 1423.0,373.8 1427.0,378.0 1430.5,381.5 1435.0,378.5 1439.0,376.5 1442.5,375.8 1445.5,377.0" fill="none" stroke="#FF0000" stroke-width="2" stroke-linejoin="round" shape-rendering="crispEdges"/>
<line x1="184" y1="345.5" x2="1445" y2="345.5" stroke="#FF0000" stroke-width="1" stroke-dasharray="18,6" shape-rendering="crispEdges"/>
<rect x="184" y="628" width="1265" height="1" fill="#808080" shape-rendering="crispEdges"/>
<rect x="189" y="627" width="1257" height="1" fill="#00A0FF" shape-rendering="crispEdges"/>
<g fill="#FFC000" shape-rendering="crispEdges"><rect x="1158" y="628" width="3" height="1"/><rect x="1159" y="629" width="1" height="1"/><rect x="1163" y="628" width="3" height="1"/><rect x="1164" y="629" width="1" height="1"/><rect x="1167" y="628" width="3" height="1"/><rect x="1168" y="629" width="1" height="1"/><rect x="1171" y="628" width="3" height="1"/><rect x="1172" y="629" width="1" height="1"/><rect x="1176" y="628" width="3" height="1"/><rect x="1177" y="629" width="1" height="1"/><rect x="1180" y="628" width="3" height="1"/><rect x="1181" y="629" width="1" height="1"/><rect x="1185" y="628" width="3" height="1"/><rect x="1186" y="629" width="1" height="1"/><rect x="1189" y="628" width="3" height="1"/><rect x="1190" y="629" width="1" height="1"/><rect x="1193" y="628" width="3" height="1"/><rect x="1194" y="629" width="1" height="1"/><rect x="1198" y="628" width="3" height="1"/><rect x="1199" y="629" width="1" height="1"/><rect x="1202" y="628" width="3" height="1"/><rect x="1203" y="629" width="1" height="1"/><rect x="1206" y="628" width="3" height="1"/><rect x="1207" y="629" width="1" height="1"/><rect x="1211" y="628" width="3" height="1"/><rect x="1212" y="629" width="1" height="1"/><rect x="1215" y="628" width="3" height="1"/><rect x="1216" y="629" width="1" height="1"/><rect x="1219" y="628" width="3" height="1"/><rect x="1220" y="629" width="1" height="1"/><rect x="1224" y="628" width="3" height="1"/><rect x="1225" y="629" width="1" height="1"/><rect x="1228" y="628" width="3" height="1"/><rect x="1229" y="629" width="1" height="1"/><rect x="1233" y="628" width="3" height="1"/><rect x="1234" y="629" width="1" height="1"/><rect x="1237" y="628" width="3" height="1"/><rect x="1238" y="629" width="1" height="1"/><rect x="1241" y="628" width="3" height="1"/><rect x="1242" y="629" width="1" height="1"/><rect x="1246" y="628" width="3" height="1"/><rect x="1247" y="629" width="1" height="1"/><rect x="1250" y="628" width="3" height="1"/><rect x="1251" y="629" width="1" height="1"/><rect x="1255" y="628" width="3" height="1"/><rect x="1256" y="629" width="1" height="1"/><rect x="1259" y="628" width="3" height="1"/><rect x="1260" y="629" width="1" height="1"/><rect x="1263" y="628" width="3" height="1"/><rect x="1264" y="629" width="1" height="1"/><rect x="1268" y="628" width="3" height="1"/><rect x="1269" y="629" width="1" height="1"/><rect x="1272" y="628" width="3" height="1"/><rect x="1273" y="629" width="1" height="1"/><rect x="1276" y="628" width="3" height="1"/><rect x="1277" y="629" width="1" height="1"/><rect x="1281" y="628" width="3" height="1"/><rect x="1282" y="629" width="1" height="1"/><rect x="1285" y="628" width="3" height="1"/><rect x="1286" y="629" width="1" height="1"/><rect x="1289" y="628" width="3" height="1"/><rect x="1290" y="629" width="1" height="1"/><rect x="1294" y="628" width="3" height="1"/><rect x="1295" y="629" width="1" height="1"/><rect x="1298" y="628" width="3" height="1"/><rect x="1299" y="629" width="1" height="1"/><rect x="1303" y="628" width="3" height="1"/><rect x="1304" y="629" width="1" height="1"/><rect x="1307" y="628" width="3" height="1"/><rect x="1308" y="629" width="1" height="1"/><rect x="1311" y="628" width="3" height="1"/><rect x="1312" y="629" width="1" height="1"/><rect x="1316" y="628" width="3" height="1"/><rect x="1317" y="629" width="1" height="1"/><rect x="1320" y="628" width="3" height="1"/><rect x="1321" y="629" width="1" height="1"/><rect x="1325" y="628" width="3" height="1"/><rect x="1326" y="629" width="1" height="1"/><rect x="1329" y="628" width="3" height="1"/><rect x="1330" y="629" width="1" height="1"/><rect x="1333" y="628" width="3" height="1"/><rect x="1334" y="629" width="1" height="1"/><rect x="1338" y="628" width="3" height="1"/><rect x="1339" y="629" width="1" height="1"/><rect x="1342" y="628" width="3" height="1"/><rect x="1343" y="629" width="1" height="1"/><rect x="1346" y="628" width="3" height="1"/><rect x="1347" y="629" width="1" height="1"/><rect x="1351" y="628" width="3" height="1"/><rect x="1352" y="629" width="1" height="1"/><rect x="1355" y="628" width="3" height="1"/><rect x="1356" y="629" width="1" height="1"/><rect x="1359" y="628" width="3" height="1"/><rect x="1360" y="629" width="1" height="1"/><rect x="1364" y="628" width="3" height="1"/><rect x="1365" y="629" width="1" height="1"/><rect x="1368" y="628" width="3" height="1"/><rect x="1369" y="629" width="1" height="1"/><rect x="1373" y="628" width="3" height="1"/><rect x="1374" y="629" width="1" height="1"/><rect x="1377" y="628" width="3" height="1"/><rect x="1378" y="629" width="1" height="1"/><rect x="1381" y="628" width="3" height="1"/><rect x="1382" y="629" width="1" height="1"/><rect x="1386" y="628" width="3" height="1"/><rect x="1387" y="629" width="1" height="1"/><rect x="1390" y="628" width="3" height="1"/><rect x="1391" y="629" width="1" height="1"/><rect x="1395" y="628" width="3" height="1"/><rect x="1396" y="629" width="1" height="1"/><rect x="1399" y="628" width="3" height="1"/><rect x="1400" y="629" width="1" height="1"/><rect x="1403" y="628" width="3" height="1"/><rect x="1404" y="629" width="1" height="1"/><rect x="1408" y="628" width="3" height="1"/><rect x="1409" y="629" width="1" height="1"/><rect x="1412" y="628" width="3" height="1"/><rect x="1413" y="629" width="1" height="1"/><rect x="1416" y="628" width="3" height="1"/><rect x="1417" y="629" width="1" height="1"/><rect x="1421" y="628" width="3" height="1"/><rect x="1422" y="629" width="1" height="1"/><rect x="1425" y="628" width="3" height="1"/><rect x="1426" y="629" width="1" height="1"/><rect x="1429" y="628" width="3" height="1"/><rect x="1430" y="629" width="1" height="1"/><rect x="1434" y="628" width="3" height="1"/><rect x="1435" y="629" width="1" height="1"/><rect x="1438" y="628" width="3" height="1"/><rect x="1439" y="629" width="1" height="1"/><rect x="1443" y="628" width="3" height="1"/><rect x="1444" y="629" width="1" height="1"/></g>
<g shape-rendering="crispEdges" fill="#707070">
<rect x="188" y="47" width="1260" height="2"/>
<rect x="187" y="47" width="2" height="582" fill="#707070"/>
<rect x="1445" y="48" width="1" height="581"/>
<rect x="1447" y="48" width="2" height="581"/>
</g>
<g fill="#808080" shape-rendering="crispEdges"><rect x="40" y="48" width="1" height="581"/><rect x="36" y="48" width="8" height="1"/><rect x="36" y="120" width="4" height="1"/><rect x="36" y="193" width="4" height="1"/><rect x="36" y="266" width="4" height="1"/><rect x="36" y="338" width="4" height="1"/><rect x="36" y="410" width="4" height="1"/><rect x="36" y="483" width="4" height="1"/><rect x="36" y="556" width="4" height="1"/><rect x="36" y="628" width="8" height="1"/><rect x="77" y="48" width="1" height="581"/><rect x="73" y="48" width="8" height="1"/><rect x="73" y="120" width="4" height="1"/><rect x="73" y="193" width="4" height="1"/><rect x="73" y="266" width="4" height="1"/><rect x="73" y="338" width="4" height="1"/><rect x="73" y="410" width="4" height="1"/><rect x="73" y="483" width="4" height="1"/><rect x="73" y="556" width="4" height="1"/><rect x="73" y="628" width="8" height="1"/><rect x="114" y="48" width="1" height="581"/><rect x="110" y="48" width="8" height="1"/><rect x="110" y="96" width="4" height="1"/><rect x="110" y="145" width="4" height="1"/><rect x="110" y="193" width="4" height="1"/><rect x="110" y="241" width="4" height="1"/><rect x="110" y="290" width="4" height="1"/><rect x="110" y="338" width="4" height="1"/><rect x="110" y="386" width="4" height="1"/><rect x="110" y="435" width="4" height="1"/><rect x="110" y="483" width="4" height="1"/><rect x="110" y="531" width="4" height="1"/><rect x="110" y="580" width="4" height="1"/><rect x="110" y="628" width="8" height="1"/><rect x="151" y="48" width="1" height="581"/><rect x="147" y="48" width="8" height="1"/><rect x="147" y="145" width="4" height="1"/><rect x="147" y="241" width="4" height="1"/><rect x="147" y="338" width="4" height="1"/><rect x="147" y="435" width="4" height="1"/><rect x="147" y="531" width="4" height="1"/><rect x="147" y="628" width="8" height="1"/><rect x="1485" y="48" width="1" height="581"/><rect x="1481" y="48" width="8" height="1"/><rect x="1486" y="120" width="4" height="1"/><rect x="1486" y="193" width="4" height="1"/><rect x="1486" y="266" width="4" height="1"/><rect x="1486" y="338" width="4" height="1"/><rect x="1486" y="410" width="4" height="1"/><rect x="1486" y="483" width="4" height="1"/><rect x="1486" y="556" width="4" height="1"/><rect x="1481" y="628" width="8" height="1"/><rect x="1522" y="48" width="1" height="581"/><rect x="1518" y="48" width="8" height="1"/><rect x="1523" y="120" width="4" height="1"/><rect x="1523" y="193" width="4" height="1"/><rect x="1523" y="266" width="4" height="1"/><rect x="1523" y="338" width="4" height="1"/><rect x="1523" y="410" width="4" height="1"/><rect x="1523" y="483" width="4" height="1"/><rect x="1523" y="556" width="4" height="1"/><rect x="1518" y="628" width="8" height="1"/><rect x="1559" y="48" width="1" height="581"/><rect x="1555" y="48" width="8" height="1"/><rect x="1560" y="120" width="4" height="1"/><rect x="1560" y="193" width="4" height="1"/><rect x="1560" y="266" width="4" height="1"/><rect x="1560" y="338" width="4" height="1"/><rect x="1560" y="410" width="4" height="1"/><rect x="1560" y="483" width="4" height="1"/><rect x="1560" y="556" width="4" height="1"/><rect x="1555" y="628" width="8" height="1"/><rect x="184" y="48" width="4" height="1"/><rect x="1449" y="48" width="4" height="1"/><rect x="184" y="120" width="4" height="1"/><rect x="1449" y="120" width="4" height="1"/><rect x="184" y="193" width="4" height="1"/><rect x="1449" y="193" width="4" height="1"/><rect x="184" y="266" width="4" height="1"/><rect x="1449" y="266" width="4" height="1"/><rect x="184" y="338" width="4" height="1"/><rect x="1449" y="338" width="4" height="1"/><rect x="184" y="410" width="4" height="1"/><rect x="1449" y="410" width="4" height="1"/><rect x="184" y="483" width="4" height="1"/><rect x="1449" y="483" width="4" height="1"/><rect x="184" y="556" width="4" height="1"/><rect x="1449" y="556" width="4" height="1"/><rect x="184" y="628" width="4" height="1"/><rect x="1449" y="628" width="4" height="1"/><rect x="188" y="629" width="1" height="4"/><rect x="240" y="629" width="1" height="4"/><rect x="293" y="629" width="1" height="4"/><rect x="346" y="629" width="1" height="4"/><rect x="398" y="629" width="1" height="4"/><rect x="450" y="629" width="1" height="4"/><rect x="503" y="629" width="1" height="4"/><rect x="556" y="629" width="1" height="4"/><rect x="608" y="629" width="1" height="4"/><rect x="660" y="629" width="1" height="4"/><rect x="713" y="629" width="1" height="4"/><rect x="766" y="629" width="1" height="4"/><rect x="818" y="629" width="1" height="4"/><rect x="870" y="629" width="1" height="4"/><rect x="923" y="629" width="1" height="4"/><rect x="976" y="629" width="1" height="4"/><rect x="1028" y="629" width="1" height="4"/><rect x="1080" y="629" width="1" height="4"/><rect x="1133" y="629" width="1" height="4"/><rect x="1186" y="629" width="1" height="4"/><rect x="1238" y="629" width="1" height="4"/><rect x="1290" y="629" width="1" height="4"/><rect x="1343" y="629" width="1" height="4"/><rect x="1396" y="629" width="1" height="4"/><rect x="1448" y="629" width="1" height="4"/></g>
<g fill="#FF0000" text-anchor="end"><text x="34.0" y="52.6">25.0</text><text x="34.0" y="124.6">20.0</text><text x="34.0" y="197.6">15.0</text><text x="34.0" y="270.6">10.0</text><text x="34.0" y="342.6">5.0</text><text x="34.0" y="414.6">0.0</text><text x="34.0" y="487.6">-5.0</text><text x="34.0" y="560.6">-10.0</text><text x="34.0" y="632.6">-15.0</text></g>
<g fill="#00A800" text-anchor="end"><text x="71.0" y="52.6">1050</text><text x="71.0" y="124.6">1040</text><text x="71.0" y="197.6">1030</text><text x="71.0" y="270.6">1020</text><text x="71.0" y="342.6">1010</text><text x="71.0" y="414.6">1000</text><text x="71.0" y="487.6">990</text><text x="71.0" y="560.6">980</text><text x="71.0" y="632.6">970</text></g>
<g fill="#000" text-anchor="end"><text x="108.0" y="52.6">120.0</text><text x="108.0" y="100.6">110.0</text><text x="108.0" y="149.6">100.0</text><text x="108.0" y="197.6">90.0</text><text x="108.0" y="245.6">80.0</text><text x="108.0" y="294.6">70.0</text><text x="108.0" y="342.6">60.0</text><text x="108.0" y="390.6">50.0</text><text x="108.0" y="439.6">40.0</text><text x="108.0" y="487.6">30.0</text><text x="108.0" y="535.6">20.0</text><text x="108.0" y="584.6">10.0</text><text x="108.0" y="632.6">0.0</text></g>
<g fill="#FFC000" text-anchor="end"><text x="145.0" y="52.6">30</text><text x="145.0" y="149.6">25</text><text x="145.0" y="245.6">20</text><text x="145.0" y="342.6">15</text><text x="145.0" y="439.6">10</text><text x="145.0" y="535.6">5</text><text x="145.0" y="632.6">0</text></g>
<g fill="#FF8000" text-anchor="end"><text x="182.0" y="52.6">1200</text><text x="182.0" y="124.6">1050</text><text x="182.0" y="197.6">900</text><text x="182.0" y="270.6">750</text><text x="182.0" y="342.6">600</text><text x="182.0" y="414.6">450</text><text x="182.0" y="487.6">300</text><text x="182.0" y="560.6">150</text><text x="182.0" y="632.6">0</text></g>
<g fill="#0000FF" text-anchor="start"><text x="1454.0" y="52.6">100</text><text x="1454.0" y="124.6">90</text><text x="1454.0" y="197.6">80</text><text x="1454.0" y="270.6">70</text><text x="1454.0" y="342.6">60</text><text x="1454.0" y="414.6">50</text><text x="1454.0" y="487.6">40</text><text x="1454.0" y="560.6">30</text><text x="1454.0" y="632.6">20</text></g>
<g fill="#00A0FF" text-anchor="start"><text x="1491.5" y="52.6">16.0</text><text x="1491.5" y="124.6">14.0</text><text x="1491.5" y="197.6">12.0</text><text x="1491.5" y="270.6">10.0</text><text x="1491.5" y="342.6">8.0</text><text x="1491.5" y="414.6">6.0</text><text x="1491.5" y="487.6">4.0</text><text x="1491.5" y="560.6">2.0</text><text x="1491.5" y="632.6">0.0</text></g>
<g fill="#000" text-anchor="start"><text x="1528.5" y="52.6">360</text><text x="1528.5" y="124.6">315</text><text x="1528.5" y="197.6">270</text><text x="1528.5" y="270.6">225</text><text x="1528.5" y="342.6">180</text><text x="1528.5" y="414.6">135</text><text x="1528.5" y="487.6">90</text><text x="1528.5" y="560.6">45</text><text x="1528.5" y="632.6">0</text></g>
<g fill="#000" text-anchor="start"><text x="1549.5" y="52.6">N</text><text x="1549.5" y="124.6"></text><text x="1549.5" y="197.6">W</text><text x="1549.5" y="270.6"></text><text x="1549.5" y="342.6">S</text><text x="1549.5" y="414.6"></text><text x="1549.5" y="487.6"></text><text x="1549.5" y="560.6"></text><text x="1549.5" y="632.6"></text></g>
<g fill="#000" text-anchor="start"><text x="1546.5" y="52.6"></text><text x="1546.5" y="124.6"></text><text x="1546.5" y="197.6"></text><text x="1546.5" y="270.6"></text><text x="1546.5" y="342.6"></text><text x="1546.5" y="414.6"></text><text x="1546.5" y="487.6">O</text><text x="1546.5" y="560.6"></text><text x="1546.5" y="632.6">N</text></g>
<g fill="#FF0080" text-anchor="start"><text x="1565.0" y="52.6">16.0</text><text x="1565.0" y="124.6">14.0</text><text x="1565.0" y="197.6">12.0</text><text x="1565.0" y="270.6">10.0</text><text x="1565.0" y="342.6">8.0</text><text x="1565.0" y="414.6">6.0</text><text x="1565.0" y="487.6">4.0</text><text x="1565.0" y="560.6">2.0</text><text x="1565.0" y="632.6">0.0</text></g>
<text x="19.5" y="36.8" fill="#FF0000">°C</text>
<text x="48" y="36.8" fill="#00A800">hPa</text>
<text x="79" y="36.8" fill="#000">km/h</text>
<text x="125" y="36.8" fill="#FFC000">min</text>
<text x="151" y="36.8" fill="#FF8000">W/m²</text>
<text x="1448.5" y="36.8" fill="#0000FF">%</text>
<text x="1485" y="36.8" fill="#00A0FF">l/m²</text>
<text x="1523" y="36.8" fill="#000">°</text>
<text x="1559" y="36.8" fill="#FF0080">UV-I</text>
<g fill="#000" text-anchor="middle"><text x="189.2" y="646.8">00:00</text><text x="241.7" y="646.8">01:00</text><text x="294.2" y="646.8">02:00</text><text x="346.7" y="646.8">03:00</text><text x="399.2" y="646.8">04:00</text><text x="451.7" y="646.8">05:00</text><text x="504.2" y="646.8">06:00</text><text x="556.7" y="646.8">07:00</text><text x="609.2" y="646.8">08:00</text><text x="661.7" y="646.8">09:00</text><text x="714.2" y="646.8">10:00</text><text x="766.7" y="646.8">11:00</text><text x="819.2" y="646.8">12:00</text><text x="871.7" y="646.8">13:00</text><text x="924.2" y="646.8">14:00</text><text x="976.7" y="646.8">15:00</text><text x="1029.2" y="646.8">16:00</text><text x="1081.7" y="646.8">17:00</text><text x="1134.2" y="646.8">18:00</text><text x="1186.7" y="646.8">19:00</text><text x="1239.2" y="646.8">20:00</text><text x="1291.7" y="646.8">21:00</text><text x="1344.2" y="646.8">22:00</text><text x="1396.7" y="646.8">23:00</text><text x="1449.2" y="646.8">24:00</text></g>
<rect x="198.5" y="33.5" width="9" height="9" fill="#FF0000" stroke="#000" stroke-width="1" shape-rendering="crispEdges"/>
<text x="212.5" y="42.3" fill="#FF0000">Temp. A.</text>
<rect x="293.5" y="33.5" width="9" height="9" fill="#0000FF" stroke="#000" stroke-width="1" shape-rendering="crispEdges"/>
<text x="307.5" y="42.3" fill="#0000FF">Feuchte A.</text>
<rect x="388.5" y="33.5" width="9" height="9" fill="#00A800" stroke="#000" stroke-width="1" shape-rendering="crispEdges"/>
<text x="402.5" y="42.3" fill="#00A800">Luftdruck</text>
<rect x="483.5" y="33.5" width="9" height="9" fill="#00A0FF" stroke="#000" stroke-width="1" shape-rendering="crispEdges"/>
<text x="497.5" y="42.3" fill="#00A0FF">Regen</text>
<rect x="578.5" y="33.5" width="9" height="9" fill="#000" stroke="#000" stroke-width="1" shape-rendering="crispEdges"/>
<text x="592.5" y="42.3" fill="#000">Wind</text>
<rect x="673.5" y="33.5" width="9" height="9" fill="#000" stroke="#000" stroke-width="1" shape-rendering="crispEdges"/>
<text x="687.5" y="42.3" fill="#000">Richtung</text>
<rect x="768.5" y="33.5" width="9" height="9" fill="#FFC000" stroke="#000" stroke-width="1" shape-rendering="crispEdges"/>
<text x="782.5" y="42.3" fill="#FFC000">Sonnenschein</text>
<rect x="863.5" y="33.5" width="9" height="9" fill="#800080" stroke="#000" stroke-width="1" shape-rendering="crispEdges"/>
<text x="877.5" y="42.3" fill="#00A0FF">ET</text>
<rect x="958.5" y="33.5" width="9" height="9" fill="#FF0080" stroke="#000" stroke-width="1" shape-rendering="crispEdges"/>
<text x="972.5" y="42.3" fill="#FF0080">UV</text>
<rect x="1053.5" y="33.5" width="9" height="9" fill="#FF8000" stroke="#000" stroke-width="1" shape-rendering="crispEdges"/>
<text x="1067.5" y="42.3" fill="#FF8000">Solar</text>
<rect x="1148.5" y="33.5" width="9" height="9" fill="#FF5000" stroke="#000" stroke-width="1" shape-rendering="crispEdges"/>
<text x="1162.5" y="42.3" fill="#FF0000">Taupunkt</text>
<rect x="1243.5" y="33.5" width="9" height="9" fill="#804000" stroke="#000" stroke-width="1" shape-rendering="crispEdges"/>
<text x="1257.5" y="42.3" fill="#000">Windböen</text>
<path d="M1338.5 42 V33.5 H1347.5 V42.5 H1344.0" fill="none" stroke="#FF0000" stroke-width="1" shape-rendering="crispEdges"/>
<text x="1352.5" y="42.3" fill="#FF0000">4.5 Monat-Ø</text>
<text x="10" y="658" fill="#000">11:53</text>
<path d="M40 657 Q40 651 44.5 651 Q49 651 49 657 Z" fill="#FFFF00"/>
<text x="510.5" y="658" fill="#000">06:47</text>
<g stroke="#FFFF70" stroke-width="1" fill="none"><line x1="539" y1="654" x2="549.5" y2="654"/><line x1="544.2" y1="648.5" x2="544.2" y2="660"/><line x1="540.5" y1="650.3" x2="548" y2="657.8"/><line x1="540.5" y1="657.8" x2="548" y2="650.3"/><circle cx="544.2" cy="654" r="4.6" stroke="#FFFFA0"/></g>
<circle cx="544.2" cy="654" r="3.3" fill="#FFFF00"/>
<rect x="543" y="624" width="2" height="13" fill="#FFFF00" shape-rendering="crispEdges"/>
<text x="1135" y="658" fill="#000">18:40</text>
<rect x="1166.5" y="651.5" width="5" height="5" fill="none" stroke="#FFFF40" stroke-width="1" shape-rendering="crispEdges"/>
<rect x="1168" y="624" width="2" height="13" fill="#FFFF00" shape-rendering="crispEdges"/>
<rect x="1" y="668" width="1598" height="72" fill="#C0FFFF" shape-rendering="crispEdges"/>
<rect x="1599" y="668" width="1" height="72" fill="#909090" shape-rendering="crispEdges"/>
<rect x="88" y="668" width="1" height="72" fill="#A0A0A0" shape-rendering="crispEdges"/>
<rect x="87" y="668" width="1" height="72" fill="#FFFFFF" shape-rendering="crispEdges"/>
<rect x="205" y="668" width="1" height="72" fill="#A0A0A0" shape-rendering="crispEdges"/>
<rect x="204" y="668" width="1" height="72" fill="#FFFFFF" shape-rendering="crispEdges"/>
<rect x="323" y="668" width="1" height="72" fill="#A0A0A0" shape-rendering="crispEdges"/>
<rect x="322" y="668" width="1" height="72" fill="#FFFFFF" shape-rendering="crispEdges"/>
<rect x="441" y="668" width="1" height="72" fill="#A0A0A0" shape-rendering="crispEdges"/>
<rect x="440" y="668" width="1" height="72" fill="#FFFFFF" shape-rendering="crispEdges"/>
<rect x="559" y="668" width="1" height="72" fill="#A0A0A0" shape-rendering="crispEdges"/>
<rect x="558" y="668" width="1" height="72" fill="#FFFFFF" shape-rendering="crispEdges"/>
<rect x="677" y="668" width="1" height="72" fill="#A0A0A0" shape-rendering="crispEdges"/>
<rect x="676" y="668" width="1" height="72" fill="#FFFFFF" shape-rendering="crispEdges"/>
<rect x="795" y="668" width="1" height="72" fill="#A0A0A0" shape-rendering="crispEdges"/>
<rect x="794" y="668" width="1" height="72" fill="#FFFFFF" shape-rendering="crispEdges"/>
<rect x="913" y="668" width="1" height="72" fill="#A0A0A0" shape-rendering="crispEdges"/>
<rect x="912" y="668" width="1" height="72" fill="#FFFFFF" shape-rendering="crispEdges"/>
<text x="8.5" y="686.2" fill="#000" font-weight="bold" letter-spacing="-0.15px">Sensor</text>
<text x="8.5" y="702.2" fill="#000" font-weight="bold" letter-spacing="-0.15px">MinWert</text>
<text x="8.5" y="718.2" fill="#000" font-weight="bold" letter-spacing="-0.15px">MaxWert</text>
<text x="8.5" y="734.2" fill="#000" font-weight="bold" letter-spacing="-0.15px">Durchschnitt</text>
<text x="95.0" y="686.2" fill="#000" font-weight="bold" letter-spacing="-0.15px">Temp. A.</text>
<text x="198.5" y="686.2" fill="#000" font-weight="bold" letter-spacing="-0.15px" text-anchor="end">°C</text>
<text x="101.0" y="702.2" fill="#000">00:40</text>
<text x="198.5" y="702.2" fill="#000" text-anchor="end">-1.9</text>
<text x="101.0" y="718.2" fill="#000">16:55</text>
<text x="198.5" y="718.2" fill="#000" text-anchor="end">11.8</text>
<text x="101.0" y="734.2" fill="#000">(+ 0.31 )</text>
<text x="198.5" y="734.2" fill="#000" text-anchor="end">4.81</text>
<text x="212.0" y="686.2" fill="#000" font-weight="bold" letter-spacing="-0.15px">Feuchte A.</text>
<text x="315.5" y="686.2" fill="#000" font-weight="bold" letter-spacing="-0.15px" text-anchor="end">%</text>
<text x="218.0" y="702.2" fill="#000">16:25</text>
<text x="315.5" y="702.2" fill="#000" text-anchor="end">51</text>
<text x="218.0" y="718.2" fill="#000">02:55</text>
<text x="315.5" y="718.2" fill="#000" text-anchor="end">97</text>
<text x="315.5" y="734.2" fill="#000" text-anchor="end">78</text>
<text x="330.0" y="686.2" fill="#000" font-weight="bold" letter-spacing="-0.15px">Luftdruck</text>
<text x="433.5" y="686.2" fill="#000" font-weight="bold" letter-spacing="-0.15px" text-anchor="end">hPa</text>
<text x="336.0" y="702.2" fill="#000">23:51</text>
<text x="433.5" y="702.2" fill="#000" text-anchor="end">1012.2</text>
<text x="336.0" y="718.2" fill="#000">00:00</text>
<text x="433.5" y="718.2" fill="#000" text-anchor="end">1020.8</text>
<text x="330.0" y="734.2" fill="#000">^1.0hPa/h</text>
<text x="433.5" y="734.2" fill="#000" text-anchor="end">1016.8</text>
<text x="448.0" y="686.2" fill="#000" font-weight="bold" letter-spacing="-0.15px">Regen</text>
<text x="551.5" y="686.2" fill="#000" font-weight="bold" letter-spacing="-0.15px" text-anchor="end">l/m²</text>
<text x="454.0" y="718.2" fill="#000">00:00</text>
<text x="551.5" y="718.2" fill="#000" text-anchor="end">0.0</text>
<text x="448.0" y="734.2" fill="#000">Gesamt:</text>
<text x="551.5" y="734.2" fill="#000" text-anchor="end">0.0</text>
<text x="566.0" y="686.2" fill="#000" font-weight="bold" letter-spacing="-0.15px">Wind</text>
<text x="669.5" y="686.2" fill="#000" font-weight="bold" letter-spacing="-0.15px" text-anchor="end">km/h</text>
<text x="566.0" y="702.2" fill="#000">Ø 10 min.</text>
<text x="669.5" y="702.2" fill="#000" text-anchor="end">0.0</text>
<text x="572.0" y="718.2" fill="#000">15:00</text>
<text x="669.5" y="718.2" fill="#000" text-anchor="end">SO 14.5</text>
<text x="669.5" y="734.2" fill="#000" text-anchor="end">3.6</text>
<text x="684.0" y="686.2" fill="#000" font-weight="bold" letter-spacing="-0.15px">Windböen</text>
<text x="787.5" y="686.2" fill="#000" font-weight="bold" letter-spacing="-0.15px" text-anchor="end">km/h</text>
<text x="684.0" y="702.2" fill="#000">Ø 10 min.</text>
<text x="787.5" y="702.2" fill="#000" text-anchor="end">0.0</text>
<text x="690.0" y="718.2" fill="#000">15:20</text>
<text x="787.5" y="718.2" fill="#000" text-anchor="end">S-SO 27.4</text>
<text x="787.5" y="734.2" fill="#000" text-anchor="end">7.6</text>
<text x="802.0" y="686.2" fill="#000" font-weight="bold" letter-spacing="-0.15px">Solar</text>
<text x="905.5" y="686.2" fill="#000" font-weight="bold" letter-spacing="-0.15px" text-anchor="end">W/m²</text>
<text x="802.0" y="702.2" fill="#000">Elevation</text>
<text x="905.5" y="702.2" fill="#000" text-anchor="end">-40.764</text>
<text x="808.0" y="718.2" fill="#000">13:15</text>
<text x="905.5" y="718.2" fill="#000" text-anchor="end">583</text>
<text x="802.0" y="734.2" fill="#000">7:50 h</text>
<text x="905.5" y="734.2" fill="#000" text-anchor="end">139</text>
<text x="920.0" y="686.2" fill="#000" font-weight="bold" letter-spacing="-0.15px">UV</text>
<text x="1021.5" y="686.2" fill="#000" font-weight="bold" letter-spacing="-0.15px" text-anchor="end">UV-I</text>
<text x="926.0" y="702.2" fill="#000">00:00</text>
<text x="1021.5" y="702.2" fill="#000" text-anchor="end">0.0</text>
<text x="926.0" y="718.2" fill="#000">12:30</text>
<text x="1021.5" y="718.2" fill="#000" text-anchor="end">2.9</text>
<text x="1021.5" y="734.2" fill="#000" text-anchor="end">1.7</text>
</svg>
</body></html>
